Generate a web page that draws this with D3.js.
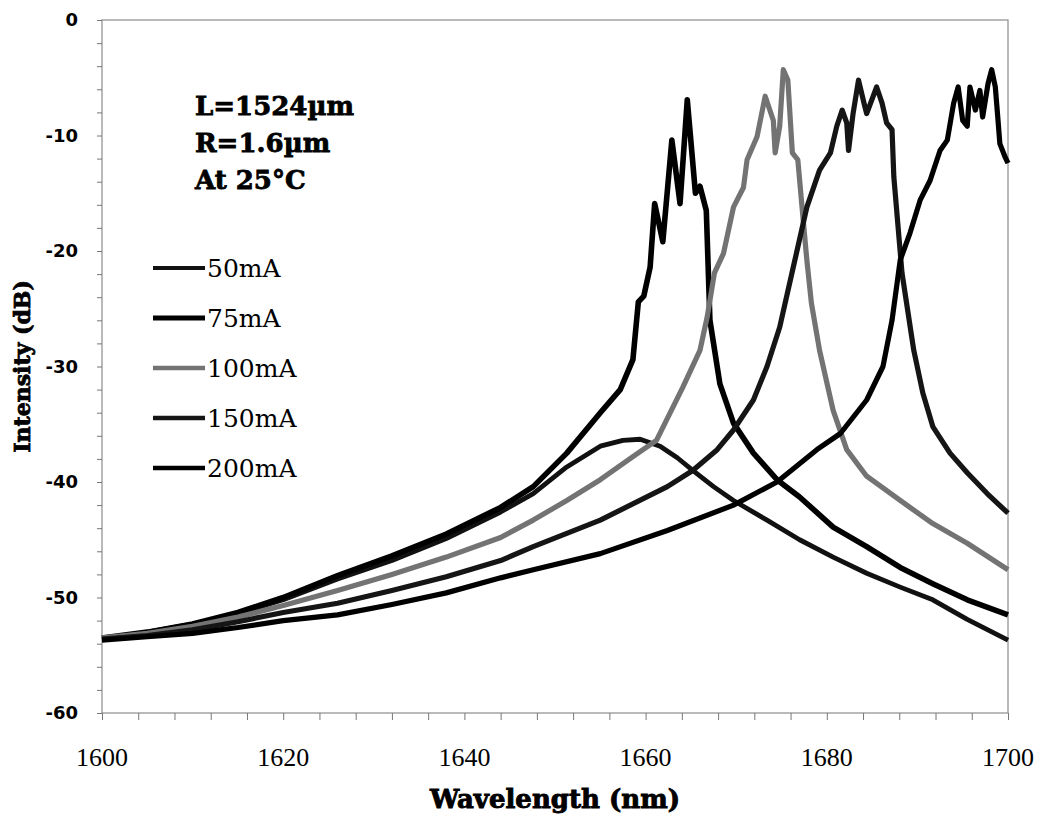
<!DOCTYPE html>
<html>
<head>
<meta charset="utf-8">
<script src="https://cdn.jsdelivr.net/npm/d3@7"></script>
<style>
  body { margin: 0; background: #fff; }
  svg { display: block; }
</style>
</head>
<body>
<svg id="chart" width="1043" height="819"></svg>
<script>
// spectra: [wavelength nm, intensity dB]
const curve50mA = [[1600,-53.6],[1605,-53.0],[1610,-52.3],[1615,-51.4],[1620,-50.2],[1626,-48.4],[1632,-46.8],[1638,-44.9],[1644,-42.6],[1647.6,-41.0],[1651.3,-38.7],[1655,-36.9],[1657.5,-36.4],[1659.4,-36.3],[1661.6,-36.9],[1663.5,-37.9],[1665.2,-39.0],[1667.5,-40.4],[1669.7,-41.6],[1673.4,-43.3],[1677,-45.0],[1680.7,-46.5],[1684.4,-47.9],[1688.1,-49.1],[1691.7,-50.2],[1695.5,-51.9],[1700,-53.7]];
const curve75mA = [[1600,-53.5],[1605,-53.0],[1610,-52.3],[1615,-51.3],[1620,-50.0],[1626,-48.1],[1632,-46.4],[1638,-44.5],[1644,-42.2],[1647.6,-40.4],[1651.3,-37.5],[1655,-34.0],[1657.2,-32.0],[1658.6,-29.4],[1659.2,-24.4],[1659.8,-23.9],[1660.5,-21.4],[1661.0,-15.9],[1661.9,-19.2],[1662.9,-10.4],[1663.8,-15.9],[1664.6,-6.9],[1665.5,-15.0],[1666.0,-14.4],[1666.7,-16.5],[1667.1,-26.0],[1668.2,-31.5],[1669.7,-34.9],[1671.9,-37.5],[1674.5,-39.8],[1677.0,-41.3],[1680.7,-43.9],[1684.4,-45.6],[1688.1,-47.4],[1691.7,-48.8],[1695.5,-50.2],[1700,-51.5]];
const curve100mA = [[1600,-53.5],[1605,-53.1],[1610,-52.5],[1615,-51.7],[1620,-50.7],[1626,-49.4],[1632,-48.0],[1638,-46.5],[1644,-44.8],[1647.6,-43.3],[1651.3,-41.6],[1655,-39.8],[1658.6,-37.8],[1661.2,-36.4],[1664.1,-31.8],[1666,-28.6],[1666.8,-25.7],[1667.6,-21.9],[1668.6,-20.2],[1669.7,-16.2],[1670.8,-14.5],[1671.2,-12.1],[1672.3,-10.1],[1673.2,-6.6],[1674.1,-8.7],[1674.3,-11.5],[1674.8,-9.2],[1675.2,-4.3],[1675.7,-5.2],[1676.2,-11.5],[1676.8,-12.1],[1677.3,-16.5],[1677.8,-20.8],[1678.3,-24.5],[1679.2,-28.6],[1680.7,-33.8],[1682.2,-37.2],[1684.4,-39.5],[1688.1,-41.6],[1691.7,-43.6],[1695.5,-45.3],[1700,-47.6]];
const curve150mA = [[1600,-53.6],[1605,-53.3],[1610,-52.8],[1615,-52.1],[1620,-51.3],[1626,-50.5],[1632,-49.4],[1638,-48.2],[1644,-46.8],[1647.6,-45.6],[1655,-43.3],[1662.4,-40.4],[1665.2,-39.0],[1667.9,-37.2],[1669.7,-35.5],[1671.9,-32.9],[1673.4,-30.0],[1674.8,-26.6],[1676.3,-21.4],[1677.8,-16.2],[1679.2,-13.0],[1680.4,-11.5],[1681.1,-9.2],[1681.7,-7.8],[1682.2,-8.9],[1682.4,-11.3],[1682.9,-8.1],[1683.5,-5.2],[1684.2,-7.5],[1684.4,-8.1],[1685.5,-5.8],[1686.1,-7.2],[1686.6,-8.9],[1687.2,-9.5],[1687.4,-13.6],[1687.8,-17.3],[1688.3,-21.9],[1688.9,-25.0],[1689.6,-28.6],[1690.6,-32.3],[1691.7,-35.2],[1693.6,-37.5],[1695.5,-39.2],[1697.7,-41.0],[1700,-42.7]];
const curve200mA = [[1600,-53.7],[1605,-53.4],[1610,-53.1],[1615,-52.6],[1620,-52.0],[1626,-51.5],[1632,-50.6],[1638,-49.6],[1644,-48.3],[1647.6,-47.6],[1655,-46.2],[1662.4,-44.2],[1669.7,-42.0],[1674.5,-40.0],[1678.9,-37.2],[1681.5,-35.8],[1684.4,-32.9],[1686.2,-30.0],[1687.2,-26.0],[1688.1,-20.8],[1689.2,-18.4],[1690.3,-15.6],[1691.4,-13.9],[1692.5,-11.3],[1693.3,-10.4],[1694.0,-7.2],[1694.5,-5.8],[1695.0,-8.7],[1695.5,-9.2],[1695.8,-5.8],[1696.4,-7.8],[1696.9,-6.1],[1697.2,-8.4],[1697.8,-5.5],[1698.2,-4.3],[1698.6,-5.8],[1698.9,-8.7],[1699.1,-10.7],[1699.7,-11.9],[1700,-12.4]];

const seriesNames = ["50mA", "75mA", "100mA", "150mA", "200mA"];
const seriesData = [curve50mA, curve75mA, curve100mA, curve150mA, curve200mA];
const xTicks = [1600, 1620, 1640, 1660, 1680, 1700];
const yTicks = [0, -10, -20, -30, -40, -50, -60];
const notes = ["L=1524\u00b5m", "R=1.6\u00b5m", "At 25\u00b0C"];

// look of each trace
const colors = ["#111", "#000", "#737373", "#151515", "#000"];
const widths = [4.8, 5.6, 5.2, 5.2, 5.2];

const svg = d3.select("#chart");
const plotLeft = 102, plotRight = 1008, plotTop = 20, plotBottom = 713;

const x = d3.scaleLinear().domain([1600, 1700]).range([plotLeft, plotRight]);
const y = d3.scaleLinear().domain([-60, 0]).range([plotBottom, plotTop]);

// frame
svg.append("rect")
  .attr("x", plotLeft).attr("y", plotTop)
  .attr("width", plotRight - plotLeft).attr("height", plotBottom - plotTop)
  .attr("fill", "none").attr("stroke", "#8c8c8c").attr("stroke-width", 1.2);

// x axis: ticks every 4 nm, labels every 20
const xAxis = d3.axisBottom(x)
  .tickValues(d3.range(1600, 1701, 4))
  .tickSize(7)
  .tickFormat("");
svg.append("g")
  .attr("transform", `translate(0,${plotBottom})`)
  .call(xAxis)
  .call(g => g.select(".domain").remove())
  .call(g => g.selectAll("line").attr("stroke", "#777"));

svg.append("g").selectAll("text")
  .data(xTicks).enter().append("text")
  .attr("x", d => x(d))
  .attr("y", 766)
  .attr("text-anchor", "middle")
  .style("font-family", "'Liberation Serif', serif")
  .style("font-size", "26px")
  .text(d => d);

// y axis: ticks every 2 dB
const yAxis = d3.axisLeft(y)
  .tickValues(d3.range(-60, 1, 2))
  .tickSize(5)
  .tickFormat("");
svg.append("g")
  .attr("transform", `translate(${plotLeft},0)`)
  .call(yAxis)
  .call(g => g.select(".domain").remove())
  .call(g => g.selectAll("line").attr("stroke", "#777"));

svg.append("g").selectAll("text")
  .data(yTicks).enter().append("text")
  .attr("x", 78)
  .attr("y", d => y(d))
  .attr("dy", "0.36em")
  .attr("text-anchor", "end")
  .style("font-family", "'DejaVu Sans', sans-serif")
  .style("font-weight", "bold")
  .style("font-size", "18px")
  .text(d => d);

// axis titles (heavy slab lettering, thickened with a stroke)
svg.append("text")
  .attr("x", (plotLeft + plotRight) / 2).attr("y", 808)
  .attr("text-anchor", "middle")
  .style("font-family", "'DejaVu Serif', serif")
  .style("font-weight", "bold")
  .style("font-size", "26px")
  .attr("stroke", "#000").attr("stroke-width", 0.9)
  .text("Wavelength (nm)");

svg.append("text")
  .attr("transform", `translate(30,${(plotTop + plotBottom) / 2}) rotate(-90)`)
  .attr("text-anchor", "middle")
  .style("font-family", "'DejaVu Serif', serif")
  .style("font-weight", "bold")
  .style("font-size", "22px")
  .attr("stroke", "#000").attr("stroke-width", 0.8)
  .text("Intensity (dB)");

// traces
const line = d3.line()
  .x(d => x(d[0]))
  .y(d => y(d[1]));

svg.append("g").selectAll("path")
  .data(seriesData).enter().append("path")
  .attr("d", line)
  .attr("fill", "none")
  .attr("stroke", (d, i) => colors[i])
  .attr("stroke-width", (d, i) => widths[i])
  .attr("stroke-linejoin", "round");

// notes
svg.append("g").selectAll("text")
  .data(notes).enter().append("text")
  .attr("x", 195)
  .attr("y", (d, i) => 115 + i * 37)
  .style("font-family", "'DejaVu Serif', serif")
  .style("font-weight", "bold")
  .style("font-size", "26px")
  .attr("stroke", "#000").attr("stroke-width", 0.8)
  .text(d => d);

// legend
const legend = svg.append("g").selectAll("g")
  .data(seriesNames).enter().append("g")
  .attr("transform", (d, i) => `translate(153,${268 + i * 50})`);

legend.append("line")
  .attr("x1", 0).attr("x2", 52)
  .attr("stroke", (d, i) => colors[i])
  .attr("stroke-width", (d, i) => widths[i] - 0.8);

legend.append("text")
  .attr("x", 54)
  .attr("dy", "0.36em")
  .style("font-family", "'DejaVu Serif', serif")
  .style("font-size", "25px")
  .text(d => d);
</script>
</body>
</html>
